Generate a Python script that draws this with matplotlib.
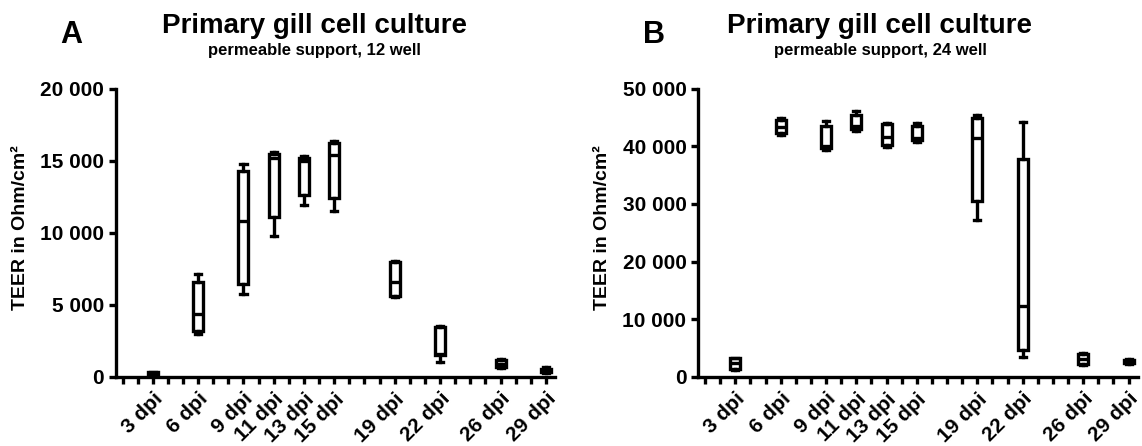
import matplotlib
matplotlib.use('Agg')
import matplotlib.pyplot as plt
from matplotlib.ticker import FuncFormatter, MultipleLocator

plt.rcParams['font.family'] = ['Liberation Sans', 'DejaVu Sans']
plt.rcParams['font.weight'] = 'bold'

dias = [3, 6, 9, 11, 13, 15, 19, 22, 26, 29]
etiquetas = ['3 dpi', '6 dpi', '9 dpi', '11 dpi', '13 dpi', '15 dpi',
             '19 dpi', '22 dpi', '26 dpi', '29 dpi']

# 12 well
min_12 = [80, 3000, 5750, 9800, 11900, 11500, 5550, 1000, 600, 250]
q1_12 = [120, 3200, 6450, 11100, 12650, 12400, 5600, 1500, 650, 300]
med_12 = [200, 4350, 10800, 15200, 15000, 15400, 6550, 1600, 850, 450]
q3_12 = [300, 6600, 14300, 15450, 15200, 16250, 7950, 3450, 1150, 550]
max_12 = [350, 7100, 14800, 15600, 15300, 16400, 8050, 3550, 1250, 650]

# 24 well
min_24 = [1200, 42000, 39300, 42700, 39900, 40800, 27200, 3500, 2100, 2200]
q1_24 = [1400, 42300, 39700, 43000, 40200, 41100, 30500, 4600, 2200, 2300]
med_24 = [2300, 43300, 40000, 43600, 41600, 41500, 41500, 12300, 3000, 2600]
q3_24 = [3200, 44500, 43600, 45400, 43800, 43600, 45000, 37800, 4000, 2900]
max_24 = [3300, 45000, 44400, 46200, 44100, 44000, 45500, 44300, 4100, 3100]

lw = 2.4


def stats(mn, q1, med, q3, mx):
    lista = []
    for i in range(len(mn)):
        lista.append({'whislo': mn[i], 'q1': q1[i], 'med': med[i],
                      'q3': q3[i], 'whishi': mx[i], 'fliers': []})
    return lista


def panel(ax, st, ymax, paso):
    ax.bxp(st, positions=dias, widths=0.66, capwidths=0.4, showfliers=False,
           patch_artist=True,
           boxprops=dict(facecolor='white', edgecolor='black', linewidth=lw),
           medianprops=dict(color='black', linewidth=lw),
           whiskerprops=dict(color='black', linewidth=lw),
           capprops=dict(color='black', linewidth=lw))
    ax.set_xlim(0.55, 29.6)
    ax.set_ylim(0, ymax)
    ax.yaxis.set_major_locator(MultipleLocator(paso))
    ax.yaxis.set_major_formatter(FuncFormatter(lambda v, p: '{:,.0f}'.format(v).replace(',', ' ')))
    ax.set_xticks(range(1, 30))
    ax.set_xticklabels([etiquetas[dias.index(d)] if d in dias else '' for d in range(1, 30)],
                       rotation=45, ha='right', rotation_mode='anchor', fontsize=15)
    ax.tick_params(axis='both', direction='out', length=5, width=lw)
    ax.tick_params(axis='y', labelsize=15)
    ax.tick_params(axis='x', pad=4)
    for s in ['top', 'right']:
        ax.spines[s].set_visible(False)
    for s in ['left', 'bottom']:
        ax.spines[s].set_linewidth(lw)
    ax.set_ylabel('TEER in Ohm/cm²', fontsize=14, fontweight='bold')
    ax.yaxis.set_label_coords(-0.198, 0.516)


fig = plt.figure(figsize=(11.42, 4.46), dpi=100)
ax1 = fig.add_axes([115.7 / 1142, 69.3 / 446, 439.3 / 1142, 288 / 446])
ax2 = fig.add_axes([698.3 / 1142, 69.3 / 446, 439.3 / 1142, 288 / 446])

panel(ax1, stats(min_12, q1_12, med_12, q3_12, max_12), 20000, 5000)
panel(ax2, stats(min_24, q1_24, med_24, q3_24, max_24), 50000, 10000)

for xc, letra, sub in [(314, 'A', 'permeable support, 12 well'),
                       (880, 'B', 'permeable support, 24 well')]:
    fig.text(xc / 1142, 1 - 33 / 446, 'Primary gill cell culture', ha='center',
             va='baseline', fontsize=20, fontweight='bold')
    fig.text(xc / 1142, 1 - 55 / 446, sub, ha='center', va='baseline',
             fontsize=12, fontweight='bold')
fig.text(71 / 1142, 1 - 43.3 / 446, 'A', ha='center', va='baseline', fontsize=22, fontweight='bold')
fig.text(654 / 1142, 1 - 43.3 / 446, 'B', ha='center', va='baseline', fontsize=22, fontweight='bold')

plt.savefig('out.png', dpi=100)
